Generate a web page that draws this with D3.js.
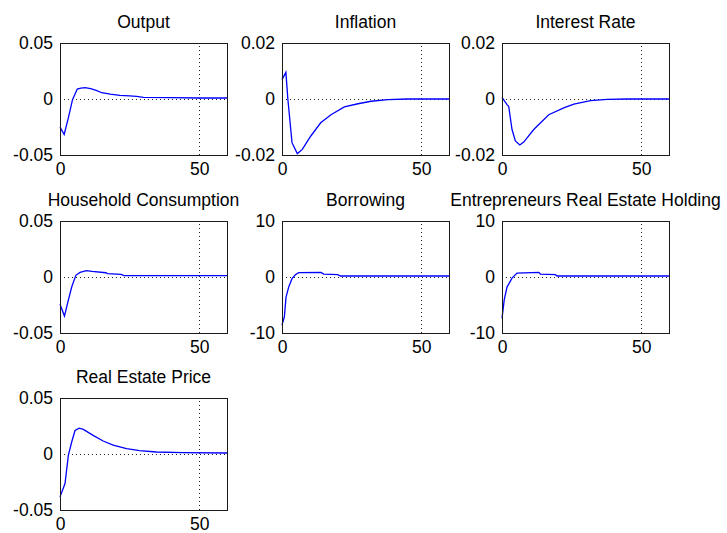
<!DOCTYPE html>
<html>
<head>
<meta charset="utf-8">
<script src="https://cdn.jsdelivr.net/npm/d3@7"></script>
<style>
  html, body { margin: 0; padding: 0; background: #fff; }
  svg { display: block; }
</style>
</head>
<body>
<svg id="chart" width="727" height="533"></svg>
<script>
// ---- Data ----
const titles = ["Output", "Inflation", "Interest Rate", "Household Consumption", "Borrowing", "Entrepreneurs Real Estate Holding", "Real Estate Price"];
const yLimits = [0.05, 0.02, 0.02, 0.05, 10, 10, 0.05];
const xTicks = [0, 50];
const xDomain = [0, 60];
const refLineX = 50;

const outputT = [0, 1.5, 3, 4.5, 6.2, 7.5, 9, 11, 13, 15, 18, 21.5, 25, 27.5, 30, 40, 50, 60];
const outputV = [-0.0251, -0.0317, -0.0169, -0.0006, 0.0089, 0.0098, 0.0101, 0.0092, 0.0077, 0.0056, 0.0044, 0.0033, 0.0027, 0.0024, 0.0015, 0.0012, 0.0009, 0.0009];

const inflationT = [0, 1.4, 2.1, 3.6, 5.5, 7.3, 10.3, 13.9, 17.6, 22.4, 27.3, 32, 38, 45, 60];
const inflationV = [0.0069, 0.0095, 0.0, -0.0156, -0.0195, -0.018, -0.0133, -0.0085, -0.0056, -0.0028, -0.0017, -0.0008, -0.0002, 0, 0];

const interestT = [0, 1.8, 2.4, 3.6, 4.8, 6.4, 7.8, 11.4, 16.8, 22.2, 25.8, 31.8, 37.8, 45, 60];
const interestV = [0.0006, -0.002, -0.0026, -0.0109, -0.015, -0.0164, -0.0154, -0.0109, -0.0056, -0.0032, -0.0018, -0.0006, -0.0001, 0, 0];

const consumptionT = [0, 1.6, 3, 4.2, 5.7, 7.2, 9.5, 11.5, 16.5, 17, 22, 23, 60];
const consumptionV = [-0.0243, -0.0349, -0.0207, -0.0089, 0.0015, 0.0041, 0.0056, 0.005, 0.0038, 0.003, 0.0024, 0.0012, 0.0012];

const borrowingT = [0, 0.85, 1.45, 2.4, 3.6, 4.8, 6, 14, 15, 20, 21, 60];
const borrowingV = [-8.6, -7.1, -3.6, -1.8, -0.3, 0.4, 0.77, 0.83, 0.53, 0.41, 0.18, 0.18];

const holdingT = [0, 0.8, 1.8, 3.6, 5.4, 13.2, 13.8, 19.2, 19.8, 60];
const holdingV = [-7.4, -4.1, -1.8, -0.2, 0.7, 0.83, 0.53, 0.41, 0.18, 0.18];

const priceT = [0, 1.8, 3, 4.2, 5.4, 6.9, 8.4, 11.9, 15.5, 19.1, 23.9, 28.6, 34.6, 44, 60];
const priceV = [-0.0383, -0.0264, -0.0012, 0.0107, 0.021, 0.0231, 0.022, 0.0166, 0.0116, 0.008, 0.0047, 0.003, 0.0018, 0.0012, 0.0009];

const seriesT = [outputT, inflationT, interestT, consumptionT, borrowingT, holdingT, priceT];
const seriesV = [outputV, inflationV, interestV, consumptionV, borrowingV, holdingV, priceV];

// ---- Layout ----
const colLeft = [60, 282, 502];
const rowTop = [43, 221, 398];
const boxW = 167, boxH = 112;
const fontFamily = "'Liberation Sans', Arial, Helvetica, sans-serif";
const fontSize = "17.5px";

const svg = d3.select("#chart");

titles.forEach((title, i) => {
  const col = i % 3, row = Math.floor(i / 3);
  const left = colLeft[col], top = rowTop[row];
  const lim = yLimits[i];
  const x = d3.scaleLinear().domain(xDomain).range([left, left + boxW]);
  const y = d3.scaleLinear().domain([-lim, lim]).range([top + boxH, top]);
  const g = svg.append("g");

  // zero and reference dotted lines
  g.append("line")
    .attr("x1", x(xDomain[0])).attr("x2", x(xDomain[1]))
    .attr("y1", Math.round(y(0)) + 0.5).attr("y2", Math.round(y(0)) + 0.5)
    .attr("stroke", "#222").attr("stroke-width", 1).attr("stroke-dasharray", "1,3");
  g.append("line")
    .attr("x1", Math.round(x(refLineX)) + 0.5).attr("x2", Math.round(x(refLineX)) + 0.5)
    .attr("y1", y(-lim)).attr("y2", y(lim))
    .attr("stroke", "#222").attr("stroke-width", 1).attr("stroke-dasharray", "1,3");

  // series line
  const pts = seriesT[i].map((t, k) => [t, seriesV[i][k]]);
  g.append("path")
    .datum(pts)
    .attr("fill", "none")
    .attr("stroke", "#0000ff")
    .attr("stroke-width", 1.3)
    .attr("d", d3.line().x(d => x(d[0])).y(d => y(d[1])));

  // box
  g.append("rect")
    .attr("x", left + 0.5).attr("y", top + 0.5)
    .attr("width", boxW).attr("height", boxH)
    .attr("fill", "none").attr("stroke", "#1a1a1a").attr("stroke-width", 1);

  // axes
  const yAxis = d3.axisLeft(y).tickValues([-lim, 0, lim]).tickSize(0).tickPadding(7).tickFormat(d => String(d));
  const ya = g.append("g").attr("transform", `translate(${left},0)`).call(yAxis);
  const xAxis = d3.axisBottom(x).tickValues(xTicks).tickSize(0).tickPadding(8).tickFormat(d => String(d));
  const xa = g.append("g").attr("transform", `translate(0,${top + boxH})`).call(xAxis);
  [ya, xa].forEach(a => {
    a.select(".domain").remove();
    a.selectAll("text").attr("fill", "#000").style("font-family", fontFamily).style("font-size", fontSize);
  });

  // title
  g.append("text")
    .attr("x", left + boxW / 2)
    .attr("y", top - 15)
    .attr("text-anchor", "middle")
    .style("font-family", fontFamily)
    .style("font-size", fontSize)
    .attr("fill", "#000")
    .text(title);
});
</script>
</body>
</html>
